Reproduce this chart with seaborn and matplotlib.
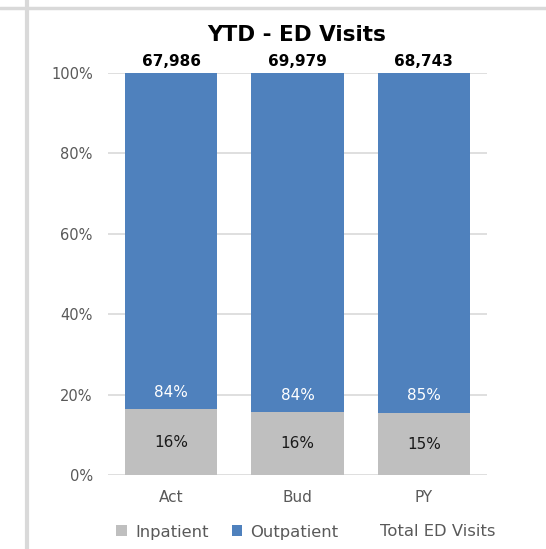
import matplotlib
matplotlib.use("Agg")
import matplotlib.pyplot as plt
from matplotlib.lines import Line2D
from matplotlib.patches import Patch
import pandas as pd
import seaborn as sns

categories = ["Act", "Bud", "PY"]
inpatient_pct = [16.3, 15.6, 15.4]
outpatient_pct = [83.7, 84.4, 84.6]
total_visits = [67986, 69979, 68743]
y_ticks = [0, 20, 40, 60, 80, 100]

BLUE = "#4F81BD"
GRAY = "#BFBFBF"
TEXT = "#595959"
GRID = "#D9D9D9"

sns.set_theme(style="white")
plt.rcParams["font.family"] = ["DejaVu Sans"]

df = pd.DataFrame({
    "category": categories,
    "inpatient": inpatient_pct,
    "outpatient": outpatient_pct,
})
df["stack_top"] = df["inpatient"] + df["outpatient"]

fig = plt.figure(figsize=(5.46, 5.49), dpi=100)
ax = fig.add_axes([108 / 546, 1 - 475 / 549, 379 / 546, 402 / 549])

# Stacked 100% bars: full stack in blue, inpatient share drawn over it in gray
sns.barplot(data=df, x="category", y="stack_top", color=BLUE, width=0.73,
            saturation=1, linewidth=0, ax=ax, zorder=2)
sns.barplot(data=df, x="category", y="inpatient", color=GRAY, width=0.73,
            saturation=1, linewidth=0, ax=ax, zorder=3)

ax.set_ylim(0, 100)
ax.set_xlim(-0.5, 2.5)
ax.set_yticks(y_ticks)
ax.set_yticklabels([f"{t}%" for t in y_ticks])
ax.set_xlabel("")
ax.set_ylabel("")
ax.grid(axis="y", color=GRID, linewidth=1.2, zorder=0)
ax.set_axisbelow(True)
for s in ax.spines.values():
    s.set_visible(False)
ax.tick_params(axis="both", length=0, labelcolor=TEXT)
ax.tick_params(axis="y", labelsize=10.5, pad=11)
ax.tick_params(axis="x", labelsize=11, pad=11)

for i, (inp, outp, tot) in enumerate(zip(inpatient_pct, outpatient_pct, total_visits)):
    ax.text(i, inp / 2, f"{round(inp):.0f}%", ha="center", va="center",
            fontsize=11, color="#1a1a1a", zorder=4)
    ax.text(i, inp + 4.3, f"{round(outp):.0f}%", ha="center", va="center",
            fontsize=11, color="white", zorder=4)
    ax.text(i, 101.0, f"{tot:,}", ha="center", va="bottom", fontsize=11,
            fontweight="bold", color="black", clip_on=False)

fig.text(297 / 546, 1 - 35 / 549, "YTD - ED Visits", ha="center", va="center",
         fontsize=15.5, fontweight="bold", color="black")

handles = [
    Patch(facecolor=GRAY, edgecolor="none"),
    Patch(facecolor=BLUE, edgecolor="none"),
    Patch(facecolor="none", edgecolor="none"),
]
fig.legend(handles, ["Inpatient", "Outpatient", "Total ED Visits"],
           loc="center", bbox_to_anchor=(306 / 546, 1 - 532 / 549), ncol=3,
           frameon=False, fontsize=11.8, handlelength=0.65, handleheight=0.65,
           handletextpad=0.5, columnspacing=1.4, labelcolor=TEXT)

# Light frame lines along the top and left edges
fig.add_artist(Line2D([0, 1], [1 - 8 / 549, 1 - 8 / 549], color=GRID,
                      linewidth=2.5, transform=fig.transFigure))
fig.add_artist(Line2D([26.5 / 546, 26.5 / 546], [0, 1], color=GRID,
                      linewidth=3, transform=fig.transFigure))

fig.savefig("out.png", dpi=100, facecolor="white")
